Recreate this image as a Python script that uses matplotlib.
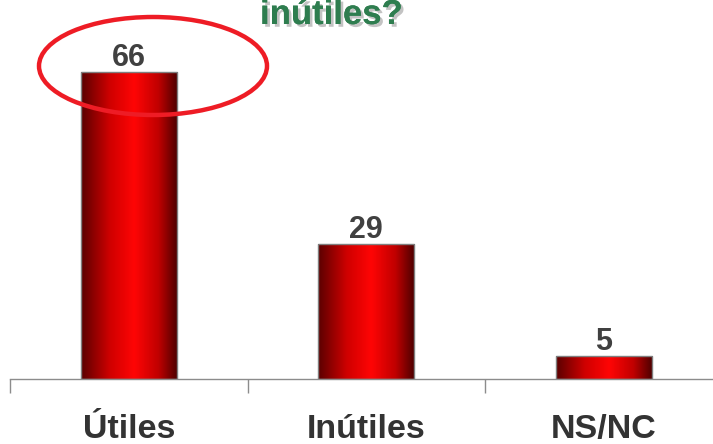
import numpy as np
import matplotlib
matplotlib.use("Agg")
import matplotlib.pyplot as plt
from matplotlib.patches import Ellipse
from matplotlib.colors import LinearSegmentedColormap
from matplotlib import font_manager
import matplotlib.patheffects as pe

categories = ["Útiles", "Inútiles", "NS/NC"]
values = [66, 29, 5]
title_text = "inútiles?"

names = {f.name for f in font_manager.fontManager.ttflist}
narrow = "Liberation Sans Narrow" if "Liberation Sans Narrow" in names else "Liberation Sans"

W, H = 713, 444
fig = plt.figure(figsize=(W / 100, H / 100), dpi=100)
ax = fig.add_axes([10 / W, 65 / H, 712.5 / W, 379 / H])
ax.set_xlim(-0.5, 2.5)
ax.set_ylim(0, 81.5)

cmap = LinearSegmentedColormap.from_list(
    "bar", [(0, "#5a0000"), (0.3, "#d00000"), (0.55, "#ff0505"), (0.8, "#c00000"), (1, "#4a0000")])
grad = np.linspace(0, 1, 256).reshape(1, -1)

x = np.arange(len(categories))
bars = ax.bar(x, values, width=0.405, facecolor="none", edgecolor="#7f7f7f", linewidth=1.0, zorder=3)
for b in bars:
    x0, y0 = b.get_x(), b.get_y()
    im = ax.imshow(grad, cmap=cmap, aspect="auto", extent=(x0, x0 + b.get_width(), y0, y0 + b.get_height()),
                   zorder=2, interpolation="bicubic")
    im.set_clip_path(b)
ax.set_xlim(-0.5, 2.5)
ax.set_ylim(0, 81.5)

for xi, v in zip(x, values):
    ax.text(xi, v - 0.2, str(v), ha="center", va="bottom", fontsize=22, fontweight="bold",
            color="#404040", family="Liberation Sans")

for s in ["top", "left", "right"]:
    ax.spines[s].set_visible(False)
ax.spines["bottom"].set_color("#8c8c8c")
ax.spines["bottom"].set_linewidth(1.0)
ax.set_yticks([])
ax.set_xticks([-0.5, 0.5, 1.5, 2.5])
ax.set_xticklabels([])
ax.tick_params(axis="x", which="major", length=10, color="#8c8c8c", width=1.0, direction="out")
ax.set_xticks(x, minor=True)
ax.set_xticklabels(categories, minor=True)
ax.tick_params(axis="x", which="minor", length=0, pad=25, labelsize=24.5, labelcolor="#333333")
for t in ax.get_xticklabels(minor=True):
    t.set_fontweight("bold")
    t.set_family(narrow)

fig.text(260 / W, 1 - 24 / H, title_text, ha="left", va="baseline", fontsize=25, fontweight="bold",
         color="#2e7d4f", family="Liberation Sans",
         path_effects=[pe.withSimplePatchShadow(offset=(2, -2), shadow_rgbFace="#aaaaaa", alpha=0.7), pe.Normal()])

ell = Ellipse((153 / W, 1 - 66 / H), 228 / W, 98 / H, transform=fig.transFigure,
              fill=False, edgecolor="#ee1c25", linewidth=3.2, zorder=10)
fig.add_artist(ell)

fig.savefig("out.png", dpi=100)
